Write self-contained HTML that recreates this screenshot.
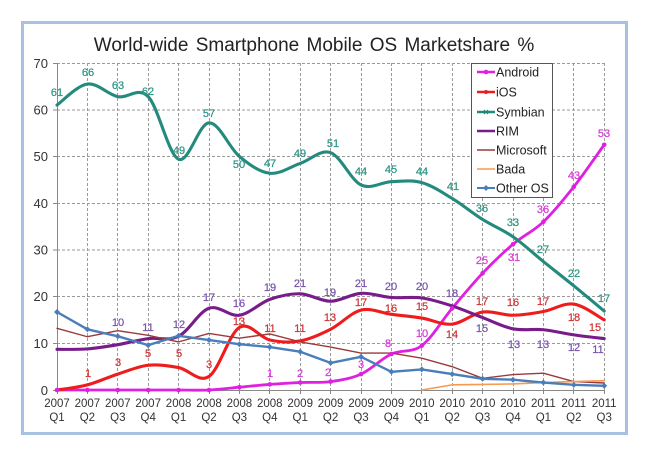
<!DOCTYPE html>
<html><head><meta charset="utf-8"><style>
html,body{margin:0;padding:0;background:#fff;}
svg{display:block;font-family:"Liberation Sans",Arial,sans-serif;}
</style></head><body>
<svg width="653" height="459" viewBox="0 0 653 459" xmlns="http://www.w3.org/2000/svg">
<rect x="0" y="0" width="653" height="459" fill="#fff"/>
<rect x="22.5" y="22.5" width="604" height="411" fill="#fff" stroke="#a9c1e0" stroke-width="3"/>
<text x="314" y="51" text-anchor="middle" font-size="19" fill="#222" word-spacing="2">World-wide Smartphone Mobile OS Marketshare %</text>

<!-- grid -->
<g stroke="#9a9a9a" stroke-width="1" stroke-dasharray="3,2" fill="none">
<path d="M57,63.5H604.5 M57,110H604.5 M57,156.5H604.5 M57,203.5H604.5 M57,250H604.5 M57,296.5H604.5 M57,343.5H604.5"/>
<path d="M87.5,63V390 M117.5,63V390 M148.5,63V390 M178.5,63V390 M209.5,63V390 M239.5,63V390 M269.5,63V390 M300.5,63V390 M330.5,63V390 M361.5,63V390 M391.5,63V390 M421.5,63V390 M452.5,63V390 M482.5,63V390 M513.5,63V390 M543.5,63V390 M573.5,63V390 M604.5,63V390"/>
</g>
<!-- axes -->
<g stroke="#888" stroke-width="1" fill="none">
<path d="M57.5,63V390.5H604.5"/>
<path d="M53,63.5H57 M53,110H57 M53,156.5H57 M53,203.5H57 M53,250H57 M53,296.5H57 M53,343.5H57 M53,390.5H57"/>
<path d="M57.5,390V394 M87.5,390V394 M117.5,390V394 M148.5,390V394 M178.5,390V394 M209.5,390V394 M239.5,390V394 M269.5,390V394 M300.5,390V394 M330.5,390V394 M361.5,390V394 M391.5,390V394 M421.5,390V394 M452.5,390V394 M482.5,390V394 M513.5,390V394 M543.5,390V394 M573.5,390V394 M604.5,390V394"/>
</g>
<g font-size="13" fill="#333" text-anchor="end">
<text x="48" y="68">70</text><text x="48" y="114.5">60</text><text x="48" y="161">50</text><text x="48" y="208">40</text><text x="48" y="254.5">30</text><text x="48" y="301">20</text><text x="48" y="348">10</text><text x="48" y="395">0</text>
</g>
<g font-size="11.5" fill="#333" text-anchor="middle">
<text x="57" y="407">2007</text><text x="57" y="421">Q1</text>
<text x="87.4" y="407">2007</text><text x="87.4" y="421">Q2</text>
<text x="117.8" y="407">2007</text><text x="117.8" y="421">Q3</text>
<text x="148.2" y="407">2007</text><text x="148.2" y="421">Q4</text>
<text x="178.6" y="407">2008</text><text x="178.6" y="421">Q1</text>
<text x="209" y="407">2008</text><text x="209" y="421">Q2</text>
<text x="239.4" y="407">2008</text><text x="239.4" y="421">Q3</text>
<text x="269.8" y="407">2008</text><text x="269.8" y="421">Q4</text>
<text x="300.2" y="407">2009</text><text x="300.2" y="421">Q1</text>
<text x="330.6" y="407">2009</text><text x="330.6" y="421">Q2</text>
<text x="361" y="407">2009</text><text x="361" y="421">Q3</text>
<text x="391.4" y="407">2009</text><text x="391.4" y="421">Q4</text>
<text x="421.8" y="407">2010</text><text x="421.8" y="421">Q1</text>
<text x="452.2" y="407">2010</text><text x="452.2" y="421">Q2</text>
<text x="482.6" y="407">2010</text><text x="482.6" y="421">Q3</text>
<text x="513" y="407">2010</text><text x="513" y="421">Q4</text>
<text x="543.4" y="407">2011</text><text x="543.4" y="421">Q1</text>
<text x="573.8" y="407">2011</text><text x="573.8" y="421">Q2</text>
<text x="604.2" y="407">2011</text><text x="604.2" y="421">Q3</text>
</g>

<!-- series -->
<g transform="translate(57,390) scale(30.4,-4.6714)" fill="none" stroke-linejoin="round" stroke-linecap="round">
<path vector-effect="non-scaling-stroke" stroke="#e020e0" stroke-width="2.8" d="M0,0 C0.167,0 0.667,0 1,0 S1.667,0 2,0 S2.667,0 3,0 S3.667,0 4,0 S4.667,-0.1 5,0 S5.667,0.4 6,0.6 S6.667,1.033 7,1.2 S7.667,1.5 8,1.6 S8.667,1.5 9,1.8 S9.667,2.417 10,3.4 S10.667,6.683 11,7.7 S11.667,7.867 12,9.5 S12.667,14.917 13,17.5 S13.667,22.717 14,25 S14.667,29.367 15,31.2 S15.667,33.95 16,36 S16.667,40.75 17,43.5 S17.833,51 18,52.5"/>
<path vector-effect="non-scaling-stroke" stroke="#ee1c1c" stroke-width="3.1" d="M0,0 C0.167,0.183 0.667,0.533 1,1.1 S1.667,2.7 2,3.4 S2.667,5.067 3,5.3 S3.667,5.2 4,4.8 S4.667,1.467 5,2.9 S5.667,12.1 6,13.4 S6.667,11.183 7,10.7 S7.667,10.117 8,10.5 S8.667,11.9 9,13 S9.667,16.567 10,17.1 S10.667,16.483 11,16.2 S11.667,15.75 12,15.4 S12.667,13.883 13,14.1 S13.667,16.383 14,16.7 S14.667,15.983 15,16 S15.667,16.4 16,16.8 S16.667,18.7 17,18.4 S17.833,15.567 18,15"/>
<path vector-effect="non-scaling-stroke" stroke="#238a7d" stroke-width="3.1" d="M0,61 C0.167,61.75 0.667,65.2 1,65.5 S1.667,63.25 2,62.8 S2.667,65.03 3,62.8 S3.667,50.33 4,49.4 S4.667,57.1 5,57.2 S5.667,51.8 6,50 S6.667,46.65 7,46.4 S7.667,47.77 8,48.5 S8.667,51.57 9,50.8 S9.667,44.93 10,43.9 S10.667,44.52 11,44.6 S11.667,45 12,44.4 S12.667,42.32 13,41 S13.667,37.87 14,36.5 S14.667,34.3 15,32.8 S15.667,29.25 16,27.5 S16.667,24.07 17,22.3 S17.833,17.8 18,16.9"/>
<path vector-effect="non-scaling-stroke" stroke="#781c8a" stroke-width="3.1" d="M0,8.7 C0.167,8.717 0.667,8.633 1,8.8 S1.667,9.333 2,9.7 S2.667,10.7 3,11 S3.667,10.417 4,11.5 S4.667,16.75 5,17.5 S5.667,15.683 6,16 S6.667,18.633 7,19.4 S7.667,20.667 8,20.6 S8.667,18.983 9,19 S9.667,20.567 10,20.7 S10.667,19.967 11,19.8 S11.667,20 12,19.7 S12.667,18.7 13,18 S13.667,16.317 14,15.5 S14.667,13.533 15,13.1 S15.667,13.117 16,12.9 S16.667,12.117 17,11.8 S17.833,11.133 18,11"/>
<polyline vector-effect="non-scaling-stroke" stroke="#9b3a3a" stroke-width="1.4" points="0,13.2 1,11.4 2,12.7 3,11.7 4,10.3 5,12.1 6,11.1 7,12 8,10.3 9,9.2 10,7.9 11,7.9 12,6.8 13,5 14,2.5 15,3.3 16,3.6 17,1.8 18,1.5"/>
<polyline vector-effect="non-scaling-stroke" stroke="#f59a50" stroke-width="1.6" points="12,0 13,1.1 14,1.2 15,1.3 16,1.6 17,1.8 18,2"/>
<polyline vector-effect="non-scaling-stroke" stroke="#4a7ebb" stroke-width="2.4" points="0,16.7 1,13 2,11.5 3,9.6 4,11.6 5,10.7 6,9.8 7,9.2 8,8.2 9,5.8 10,7.1 11,3.9 12,4.4 13,3.4 14,2.4 15,2.2 16,1.6 17,1.1 18,0.9"/>
</g>

<!-- markers -->
<g fill="#e020e0">
<circle cx="57" cy="390" r="2.3"/><circle cx="87.4" cy="390" r="2.3"/><circle cx="117.8" cy="390" r="2.3"/><circle cx="148.2" cy="390" r="2.3"/><circle cx="178.6" cy="390" r="2.3"/><circle cx="209" cy="390" r="2.3"/><circle cx="239.4" cy="387.2" r="2.3"/><circle cx="269.8" cy="384.4" r="2.3"/><circle cx="300.2" cy="382.5" r="2.3"/><circle cx="330.6" cy="381.6" r="2.3"/><circle cx="361" cy="374.1" r="2.3"/><circle cx="391.4" cy="354" r="2.3"/><circle cx="421.8" cy="345.6" r="2.3"/><circle cx="452.2" cy="308.3" r="2.3"/><circle cx="482.6" cy="273.2" r="2.3"/><circle cx="513" cy="244.3" r="2.3"/><circle cx="543.4" cy="221.8" r="2.3"/><circle cx="573.8" cy="186.8" r="2.3"/><circle cx="604.2" cy="144.8" r="2.3"/>
</g>
<path fill="#4a7ebb" d="M57,309l3,3-3,3-3-3z M87.4,326.3l3,3-3,3-3-3z M117.8,333.3l3,3-3,3-3-3z M148.2,342.2l3,3-3,3-3-3z M178.6,332.8l3,3-3,3-3-3z M209,337l3,3-3,3-3-3z M239.4,341.2l3,3-3,3-3-3z M269.8,344l3,3-3,3-3-3z M300.2,348.7l3,3-3,3-3-3z M330.6,359.9l3,3-3,3-3-3z M361,353.8l3,3-3,3-3-3z M391.4,368.8l3,3-3,3-3-3z M421.8,366.4l3,3-3,3-3-3z M452.2,371.1l3,3-3,3-3-3z M482.6,375.8l3,3-3,3-3-3z M513,376.7l3,3-3,3-3-3z M543.4,379.5l3,3-3,3-3-3z M573.8,381.9l3,3-3,3-3-3z M604.2,382.8l3,3-3,3-3-3z"/>

<!-- data labels -->
<g font-size="11" text-anchor="middle" stroke-width="0.25">
<g fill="#2f9686" stroke="#2f9686">
<text x="57" y="96">61</text><text x="88" y="76">66</text><text x="118" y="89">63</text><text x="148" y="95">62</text><text x="179" y="154">49</text><text x="209" y="117">57</text><text x="239" y="168">50</text><text x="270" y="167">47</text><text x="300" y="157">49</text><text x="333" y="147">51</text><text x="361" y="175">44</text><text x="391" y="173">45</text><text x="422" y="175">44</text><text x="453" y="190">41</text><text x="482" y="212">36</text><text x="513" y="226">33</text><text x="543" y="253">27</text><text x="574" y="277">22</text><text x="604" y="302">17</text>
</g>
<g fill="#d63cd6" stroke="#d63cd6">
<text x="270" y="377">1</text><text x="300" y="377">2</text><text x="328" y="376">2</text><text x="361" y="368">3</text><text x="388" y="347">8</text><text x="422" y="337">10</text><text x="482" y="264">25</text><text x="514" y="261">31</text><text x="543" y="213">36</text><text x="574" y="179">43</text><text x="604" y="137">53</text>
</g>
<g fill="#d23636" stroke="#d23636">
<text x="88" y="377">1</text><text x="118" y="366">3</text><text x="148" y="357">5</text><text x="179" y="357">5</text><text x="209" y="368">3</text><text x="239" y="325">13</text><text x="270" y="332">11</text><text x="300" y="332">11</text><text x="330" y="321">13</text><text x="361" y="306">17</text><text x="391" y="312">16</text><text x="422" y="310">15</text><text x="452" y="338">14</text><text x="482" y="305">17</text><text x="513" y="306">16</text><text x="543" y="305">17</text><text x="574" y="321">18</text><text x="595" y="331">15</text>
</g>
<g fill="#7a55ae" stroke="#7a55ae">
<text x="118" y="326">10</text><text x="148" y="331">11</text><text x="179" y="328">12</text><text x="209" y="301">17</text><text x="239" y="307">16</text><text x="270" y="291">19</text><text x="300" y="287">21</text><text x="330" y="296">19</text><text x="361" y="287">21</text><text x="391" y="290">20</text><text x="422" y="290">20</text><text x="452" y="297">18</text><text x="482" y="332">15</text><text x="514" y="348">13</text><text x="543" y="348">13</text><text x="574" y="351">12</text><text x="598" y="353">11</text>
</g>
</g>

<!-- legend -->
<rect x="471.5" y="63.5" width="81" height="134" fill="#fff" stroke="#555" stroke-width="1"/>
<g stroke-width="2.6" fill="none">
<path d="M477,72H495" stroke="#e020e0"/>
<path d="M477,92H495" stroke="#ee1c1c"/>
<path d="M477,112H495" stroke="#238a7d"/>
<path d="M477,131H495" stroke="#781c8a"/>
<path d="M477,150H495" stroke="#9b3a3a" stroke-width="1.4"/>
<path d="M477,169H495" stroke="#f59a50" stroke-width="1.6"/>
<path d="M477,188H495" stroke="#4a7ebb" stroke-width="2"/>
</g>
<circle cx="486" cy="72" r="2.3" fill="#e020e0"/>
<circle cx="486" cy="92" r="2" fill="#ee1c1c"/>
<path d="M484,110l4,4M488,110l-4,4" stroke="#238a7d" stroke-width="1.2"/>
<path d="M486,185l3,3-3,3-3-3z" fill="#4a7ebb"/>
<g font-size="12.5" fill="#222">
<text x="496" y="76.5">Android</text>
<text x="496" y="96.5">iOS</text>
<text x="496" y="116.5">Symbian</text>
<text x="496" y="135.5">RIM</text>
<text x="496" y="154.5">Microsoft</text>
<text x="496" y="173.5">Bada</text>
<text x="496" y="192.5">Other OS</text>
</g>
</svg>
</body></html>
